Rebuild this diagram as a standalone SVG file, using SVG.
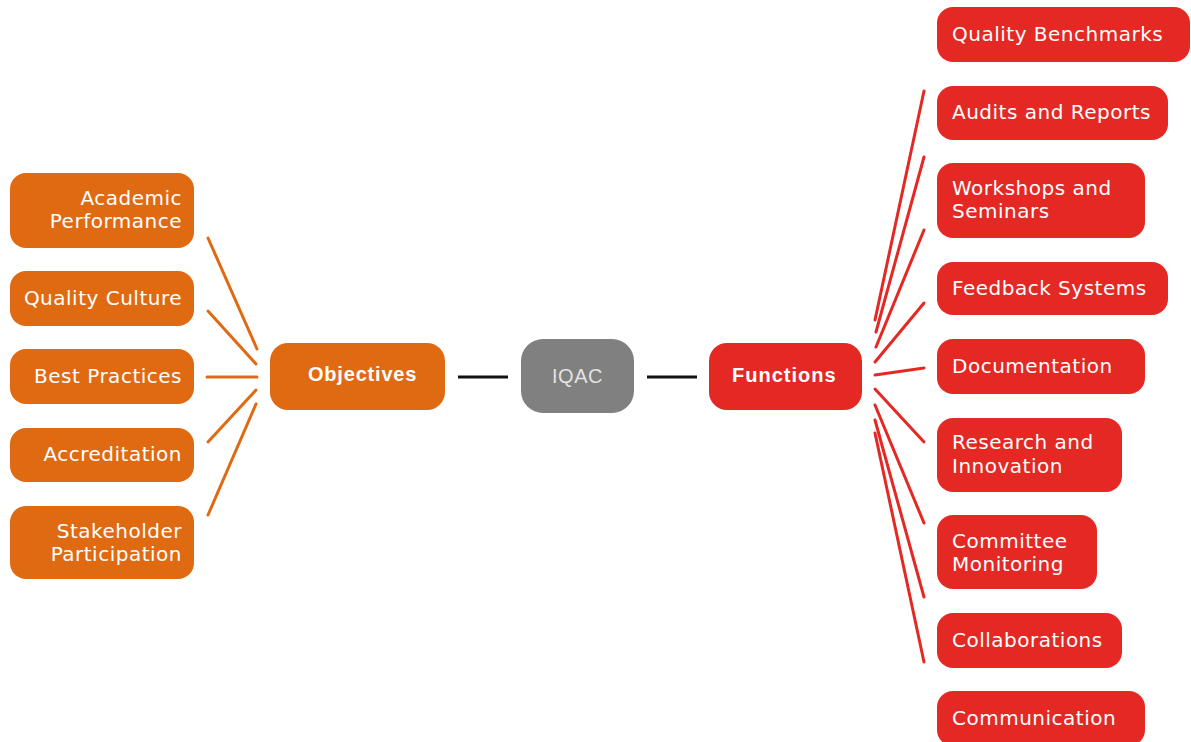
<svg xmlns="http://www.w3.org/2000/svg" width="1191" height="742" viewBox="0 0 1191 742">
<style>
.o{fill:#e06a12}
.r{fill:#e42824}
.g{fill:#808080}
.t{font-family:"DejaVu Sans",Verdana,sans-serif;font-size:20px;letter-spacing:0.5px;fill:#ffffff}
.tr{text-anchor:end}
.b{font-family:"Liberation Sans",Arial,sans-serif;font-size:20px;font-weight:bold;fill:#ffffff}
.lo{stroke:#e06a12;stroke-width:3;fill:none;stroke-linecap:round}
.lr{stroke:#e42824;stroke-width:3;fill:none;stroke-linecap:round}
.lk{stroke:#111111;stroke-width:3;fill:none}
</style>
<rect width="1191" height="742" fill="#ffffff"/>
<g id="connectors">
<line class="lk" x1="458" y1="377" x2="508" y2="377"/>
<line class="lk" x1="647" y1="377" x2="697" y2="377"/>
<line class="lo" x1="208" y1="238" x2="257" y2="349"/>
<line class="lo" x1="208" y1="311" x2="256" y2="364"/>
<line class="lo" x1="207" y1="377" x2="257" y2="377"/>
<line class="lo" x1="208" y1="442" x2="256" y2="390"/>
<line class="lo" x1="208" y1="515" x2="256" y2="404"/>
<line class="lr" x1="924" y1="91" x2="875" y2="320"/>
<line class="lr" x1="924" y1="157" x2="876" y2="332"/>
<line class="lr" x1="924" y1="230" x2="876" y2="347"/>
<line class="lr" x1="924" y1="303" x2="875" y2="362"/>
<line class="lr" x1="924" y1="368" x2="875" y2="375"/>
<line class="lr" x1="924" y1="442" x2="875" y2="389"/>
<line class="lr" x1="924" y1="523" x2="875" y2="405"/>
<line class="lr" x1="924" y1="597" x2="875" y2="420"/>
<line class="lr" x1="924" y1="662" x2="875" y2="433"/>
</g>
<g id="iqac"><rect class="g" x="521" y="339" width="113" height="74" rx="22"/><text x="577.5" y="383" font-family="Liberation Sans, Arial, sans-serif" font-size="20" letter-spacing="0.5" fill="#e2e2e2" text-anchor="middle">IQAC</text></g>
<g id="objectives"><rect class="o" x="270" y="343" width="175" height="67" rx="18"/><text class="b" x="308" y="381" letter-spacing="0.8">Objectives</text></g>
<g id="functions"><rect class="r" x="709" y="343" width="153" height="67" rx="18"/><text class="b" x="732" y="382" letter-spacing="1">Functions</text></g>
<g id="academic-performance"><rect class="o" x="10" y="173" width="184" height="75" rx="16"/><text class="t tr" x="182" y="205">Academic</text><text class="t tr" x="182" y="228">Performance</text></g>
<g id="quality-culture"><rect class="o" x="10" y="271" width="184" height="55" rx="16"/><text class="t tr" x="182" y="305">Quality Culture</text></g>
<g id="best-practices"><rect class="o" x="10" y="349" width="184" height="55" rx="16"/><text class="t tr" x="182" y="383">Best Practices</text></g>
<g id="accreditation"><rect class="o" x="10" y="428" width="184" height="54" rx="16"/><text class="t tr" x="182" y="461">Accreditation</text></g>
<g id="stakeholder-participation"><rect class="o" x="10" y="506" width="184" height="73" rx="16"/><text class="t tr" x="182" y="538">Stakeholder</text><text class="t tr" x="182" y="561">Participation</text></g>
<g id="quality-benchmarks"><rect class="r" x="937" y="7" width="253" height="55" rx="16"/><text class="t" x="952" y="41">Quality Benchmarks</text></g>
<g id="audits-and-reports"><rect class="r" x="937" y="86" width="231" height="54" rx="16"/><text class="t" x="952" y="119">Audits and Reports</text></g>
<g id="workshops-and-seminars"><rect class="r" x="937" y="163" width="208" height="75" rx="16"/><text class="t" x="952" y="195">Workshops and</text><text class="t" x="952" y="218">Seminars</text></g>
<g id="feedback-systems"><rect class="r" x="937" y="262" width="231" height="53" rx="16"/><text class="t" x="952" y="295">Feedback Systems</text></g>
<g id="documentation"><rect class="r" x="937" y="339" width="208" height="55" rx="16"/><text class="t" x="952" y="373">Documentation</text></g>
<g id="research-and-innovation"><rect class="r" x="937" y="418" width="185" height="74" rx="16"/><text class="t" x="952" y="449">Research and</text><text class="t" x="952" y="473">Innovation</text></g>
<g id="committee-monitoring"><rect class="r" x="937" y="515" width="160" height="74" rx="16"/><text class="t" x="952" y="548">Committee</text><text class="t" x="952" y="571">Monitoring</text></g>
<g id="collaborations"><rect class="r" x="937" y="613" width="185" height="55" rx="16"/><text class="t" x="952" y="647">Collaborations</text></g>
<g id="communication"><rect class="r" x="937" y="691" width="208" height="55" rx="16"/><text class="t" x="952" y="725">Communication</text></g>
</svg>
